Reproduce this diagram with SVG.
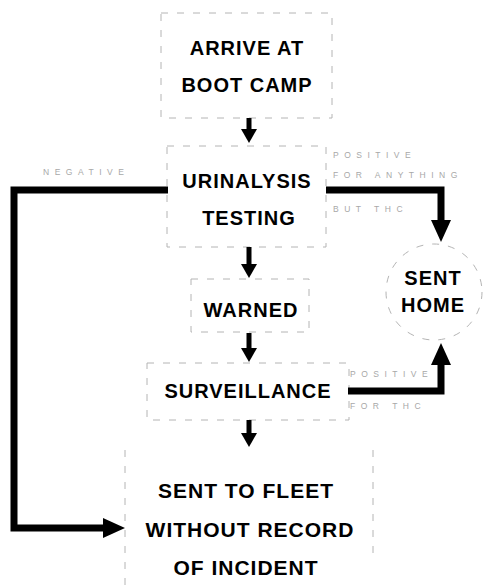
<svg xmlns="http://www.w3.org/2000/svg" width="486" height="588" viewBox="0 0 486 588">
<style>
.box{fill:none;stroke:#b4b4b4;stroke-width:1;stroke-dasharray:7 9}
.t{font-family:"Liberation Sans",Arial,Helvetica,sans-serif;font-weight:bold;font-size:20px;letter-spacing:1px;fill:#000;text-anchor:middle}
.tb{font-size:21px}
.lbl{font-family:"Liberation Sans",Arial,Helvetica,sans-serif;font-size:8.5px;letter-spacing:5.5px;fill:#a8a8a8}
.sm{fill:none;stroke:#000;stroke-width:5}
.bg{fill:none;stroke:#000;stroke-width:7;stroke-linejoin:miter}
</style>
<defs>
<marker id="hs" markerUnits="userSpaceOnUse" viewBox="0 0 14 16" refX="0" refY="8" markerWidth="14" markerHeight="16" orient="auto"><path d="M0,0 L14,8 L0,16 z" fill="#000"/></marker>
<marker id="hb" markerUnits="userSpaceOnUse" viewBox="0 0 22 20" refX="0" refY="10" markerWidth="22" markerHeight="20" orient="auto"><path d="M0,0 L22,10 L0,20 z" fill="#000"/></marker>
</defs>
<rect width="486" height="588" fill="#fff"/>
<g id="arrive">
<rect class="box" x="161" y="13" width="171" height="105"/>
<text class="t" x="247" y="55">ARRIVE AT</text>
<text class="t" x="247" y="92">BOOT CAMP</text>
</g>
<g id="urinalysis">
<rect class="box" x="167" y="146" width="159" height="101"/>
<text class="t" x="247" y="188">URINALYSIS</text>
<text class="t" x="249" y="225">TESTING</text>
</g>
<g id="warned">
<rect class="box" x="191" y="279" width="118" height="53"/>
<text class="t" x="251" y="317">WARNED</text>
</g>
<g id="surveillance">
<rect class="box" x="147" y="363" width="202" height="57" stroke-dasharray="3 22"/>
<text class="t" x="248" y="398">SURVEILLANCE</text>
</g>
<g id="senthome">
<ellipse class="box" cx="434" cy="292" rx="48" ry="48"/>
<text class="t" x="433" y="285">SENT</text>
<text class="t" x="433" y="312">HOME</text>
</g>
<g id="fleet">
<path class="box" d="M125,450 V588 M373,450 V558"/>
<text class="t tb" x="246" y="498">SENT TO FLEET</text>
<text class="t tb" x="250" y="537">WITHOUT RECORD</text>
<text class="t tb" x="246" y="575">OF INCIDENT</text>
</g>
<g id="connectors">
<path class="sm" d="M249,118 V129" marker-end="url(#hs)"/>
<path class="sm" d="M249,247 V264" marker-end="url(#hs)"/>
<path class="sm" d="M249,333 V348" marker-end="url(#hs)"/>
<path class="sm" d="M249,420 V433" marker-end="url(#hs)"/>
<path class="bg" d="M168,190 H14 V528 H103" marker-end="url(#hb)"/>
<path class="bg" d="M326,190 H441 V220" marker-end="url(#hb)"/>
<path class="bg" d="M348,391 H441 V365" marker-end="url(#hb)"/>
<text class="lbl" x="43" y="175" letter-spacing="7">NEGATIVE</text>
<text class="lbl" x="333" y="158">POSITIVE</text>
<text class="lbl" x="333" y="178">FOR ANYTHING</text>
<text class="lbl" x="333" y="212">BUT THC</text>
<text class="lbl" x="350" y="377">POSITIVE</text>
<text class="lbl" x="350" y="409">FOR THC</text>
</g>
</svg>
